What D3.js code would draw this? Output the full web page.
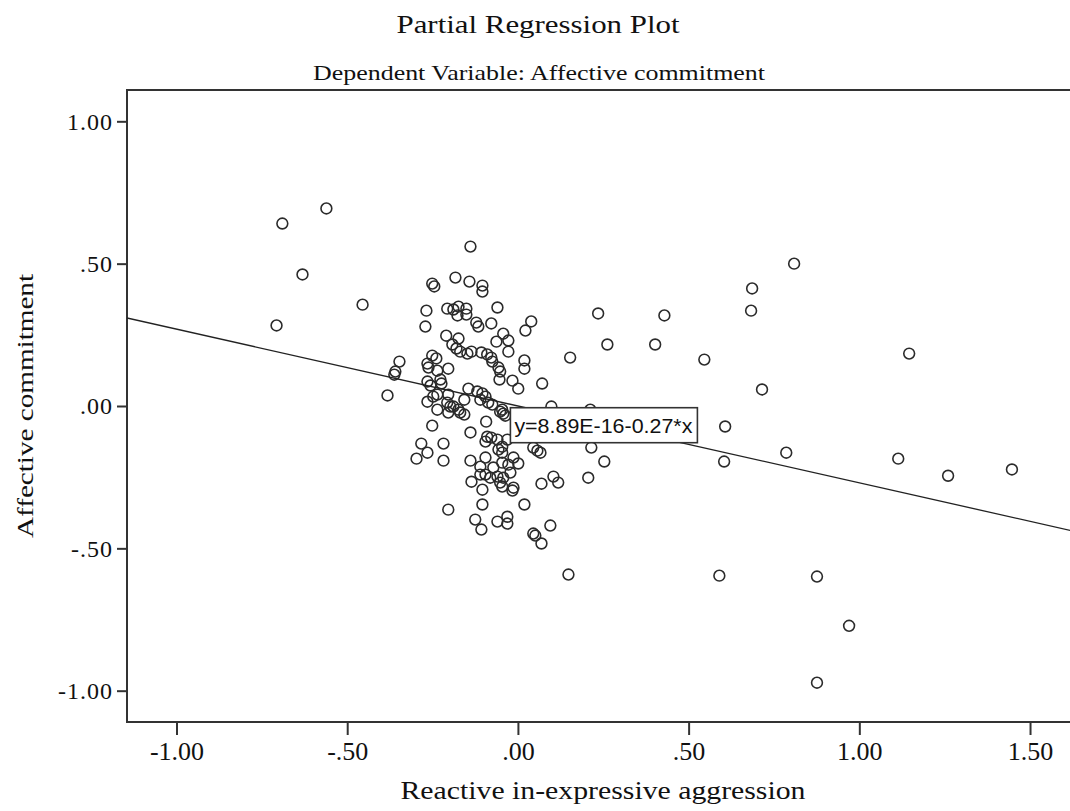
<!DOCTYPE html>
<html>
<head>
<meta charset="utf-8">
<script src="https://cdn.jsdelivr.net/npm/d3@7"></script>
<style>
  body { margin: 0; background: #fff; }
  svg { display: block; }
</style>
</head>
<body>
<div id="chart"></div>
<script>
// partial residuals
const xVals = [
  -0.690, -0.561, -0.631, -0.455, -0.707, -0.347, -0.359, -0.362, -0.382, -0.139,
  -0.251, -0.245, -0.183, -0.142, -0.104, -0.104, -0.268, -0.271, -0.207, -0.189,
  -0.174, -0.151, -0.177, -0.151, -0.060, -0.122, -0.116, -0.078, 0.039, 0.022,
  -0.210, -0.174, -0.192, -0.180, -0.169, -0.148, -0.136, -0.043, -0.028, -0.063,
  -0.028, -0.107, -0.090, -0.078, -0.075, -0.057, -0.052, -0.251, -0.239, -0.265,
  -0.236, -0.204, -0.262, 0.019, 0.019, 0.153, -0.054, -0.227, -0.265, -0.256,
  -0.224, -0.236, -0.204, -0.207, -0.198, -0.145, -0.119, -0.104, -0.110, -0.095,
  -0.087, -0.075, -0.016, 0.001, 0.071, -0.248, -0.265, -0.236, -0.189, -0.169,
  -0.204, -0.157, -0.174, -0.157, -0.052, -0.043, -0.037, -0.046, -0.093, -0.251,
  0.098, 0.212, -0.139, -0.090, -0.060, -0.046, -0.046, -0.057, -0.283, -0.265,
  -0.297, -0.218, -0.218, -0.139, -0.110, -0.095, -0.072, -0.095, -0.110, -0.081,
  -0.060, -0.043, -0.052, -0.022, -0.013, 0.001, 0.045, 0.066, 0.057, -0.078,
  -0.095, -0.031, -0.028, -0.046, -0.136, -0.104, -0.016, 0.069, 0.104, 0.118,
  -0.104, 0.019, -0.204, -0.125, -0.107, -0.060, -0.031, -0.031, 0.045, 0.051,
  0.069, 0.095, 0.148, -0.046, -0.013, 0.235, 0.429, 0.686, 0.683, 0.809,
  0.262, 0.402, 0.546, 0.715, 0.607, 0.215, 0.253, 0.604, 0.786, 0.206,
  1.146, 1.114, 1.260, 1.447, 0.876, 0.970, 0.876, 0.590
];
const yVals = [
  0.641, 0.694, 0.462, 0.356, 0.283, 0.156, 0.121, 0.110, 0.037, 0.560,
  0.430, 0.420, 0.451, 0.437, 0.423, 0.402, 0.335, 0.279, 0.342, 0.339,
  0.349, 0.342, 0.318, 0.321, 0.346, 0.293, 0.279, 0.290, 0.297, 0.265,
  0.247, 0.237, 0.216, 0.202, 0.191, 0.184, 0.191, 0.254, 0.230, 0.226,
  0.191, 0.188, 0.181, 0.170, 0.156, 0.135, 0.121, 0.177, 0.167, 0.149,
  0.124, 0.131, 0.135, 0.160, 0.131, 0.170, 0.093, 0.093, 0.086, 0.072,
  0.079, 0.040, 0.040, 0.012, -0.002, 0.061, 0.051, 0.044, 0.022, 0.033,
  0.012, 0.005, 0.089, 0.061, 0.079, 0.033, 0.015, -0.013, -0.002, -0.023,
  -0.023, 0.022, -0.013, -0.030, -0.020, -0.027, -0.034, -0.013, -0.055, -0.069,
  -0.002, -0.013, -0.093, -0.108, -0.118, -0.143, -0.164, -0.153, -0.132, -0.164,
  -0.185, -0.132, -0.192, -0.192, -0.213, -0.181, -0.216, -0.241, -0.241, -0.252,
  -0.248, -0.252, -0.269, -0.234, -0.181, -0.202, -0.146, -0.164, -0.157, -0.111,
  -0.125, -0.118, -0.206, -0.199, -0.266, -0.294, -0.297, -0.273, -0.248, -0.269,
  -0.346, -0.346, -0.364, -0.399, -0.434, -0.406, -0.389, -0.413, -0.448, -0.455,
  -0.483, -0.420, -0.592, -0.283, -0.287, 0.325, 0.318, 0.413, 0.335, 0.500,
  0.216, 0.216, 0.163, 0.058, -0.072, -0.146, -0.195, -0.195, -0.164, -0.252,
  0.184, -0.185, -0.245, -0.223, -0.599, -0.772, -0.972, -0.596
];

const xTicks = [-1, -0.5, 0, 0.5, 1, 1.5];
const yTicks = [-1, -0.5, 0, 0.5, 1];

// fit line
const intercept = 8.89e-16;
const slope = -0.27;
const fitLabel = "y=8.89E-16-0.27*x";

const title = "Partial Regression Plot";
const subtitle = "Dependent Variable: Affective commitment";
const xTitle = "Reactive in-expressive aggression";
const yTitle = "Affective commitment";

const width = 1070, height = 811;
const plotLeft = 127, plotTop = 90, plotBottom = 722, plotRight = 1071;
const serif = "'Liberation Serif', 'Times New Roman', serif";
const ink = "#333";

const points = xVals.map((d, i) => ({x: d, y: yVals[i]}));

let x = d3.scaleLinear().domain([-1.145, 1.62]).range([plotLeft, plotRight]);
let y = d3.scaleLinear().domain([-1.11, 1.11]).range([plotBottom, plotTop]);

// SPSS style: ".50", "-.50", ".00"
const fmt = d => d.toFixed(2).replace(/^(-?)0\./, "$1.");

let svg = d3.select("#chart").append("svg")
  .attr("width", width)
  .attr("height", height)
  .style("background", "#fff");

svg.append("defs").append("clipPath").attr("id", "plot-clip")
  .append("rect")
    .attr("x", plotLeft).attr("y", plotTop)
    .attr("width", plotRight - plotLeft + 10).attr("height", plotBottom - plotTop);

// the source chart is stretched sideways, so the text is stretched to fit too
function stretchedText(sel, len) {
  return sel.attr("textLength", len).attr("lengthAdjust", "spacingAndGlyphs");
}

// titles
svg.append("text")
  .attr("x", 538).attr("y", 33)
  .attr("text-anchor", "middle")
  .attr("font-family", serif).attr("font-size", 25)
  .attr("fill", "#111")
  .call(stretchedText, 283)
  .text(title);

svg.append("text")
  .attr("x", 539).attr("y", 80)
  .attr("text-anchor", "middle")
  .attr("font-family", serif).attr("font-size", 22)
  .attr("fill", "#111")
  .call(stretchedText, 452)
  .text(subtitle);

// axes
let xAxis = svg.append("g")
  .attr("transform", `translate(0,${plotBottom})`)
  .call(d3.axisBottom(x).tickValues(xTicks).tickFormat(fmt).tickSize(13).tickSizeOuter(0));

xAxis.select(".domain").remove();
xAxis.selectAll(".tick line").attr("stroke", ink).attr("stroke-width", 2);
xAxis.selectAll(".tick text")
  .attr("y", 38).attr("dy", 0)
  .attr("font-family", serif).attr("font-size", 26)
  .attr("fill", "#111");

let yAxis = svg.append("g")
  .attr("transform", `translate(${plotLeft},0)`)
  .call(d3.axisLeft(y).tickValues(yTicks).tickFormat(fmt).tickSize(10).tickPadding(4).tickSizeOuter(0));

yAxis.select(".domain").remove();
yAxis.selectAll(".tick line").attr("stroke", ink).attr("stroke-width", 2);
yAxis.selectAll(".tick text")
  .attr("font-family", serif).attr("font-size", 24)
  .attr("letter-spacing", 1)
  .attr("fill", "#111");

// frame (right side runs off the picture)
svg.append("path")
  .attr("d", `M${plotRight + 10},${plotTop}H${plotLeft}V${plotBottom}H${plotRight + 10}`)
  .attr("fill", "none")
  .attr("stroke", ink)
  .attr("stroke-width", 2);

svg.append("text")
  .attr("transform", `translate(33,${(plotTop + plotBottom) / 2}) rotate(-90)`)
  .attr("text-anchor", "middle")
  .attr("font-family", serif).attr("font-size", 24)
  .attr("fill", "#111")
  .call(stretchedText, 264)
  .text(yTitle);

svg.append("text")
  .attr("x", 603).attr("y", 799)
  .attr("text-anchor", "middle")
  .attr("font-family", serif).attr("font-size", 25)
  .attr("fill", "#111")
  .call(stretchedText, 405)
  .text(xTitle);

let plot = svg.append("g").attr("clip-path", "url(#plot-clip)");

plot.selectAll("circle")
  .data(points)
  .enter()
  .append("circle")
  .attr("cx", d => x(d.x))
  .attr("cy", d => y(d.y))
  .attr("r", 5.4)
  .attr("fill", "none")
  .attr("stroke", "#2b2b2b")
  .attr("stroke-width", 1.6);

const xd = x.domain();
plot.append("line")
  .attr("x1", x(xd[0])).attr("y1", y(intercept + slope * xd[0]))
  .attr("x2", x(xd[1])).attr("y2", y(intercept + slope * xd[1]))
  .attr("stroke", "#222")
  .attr("stroke-width", 1.3);

// equation label sits just right of the origin
let lab = svg.append("g")
  .attr("transform", `translate(${x(-0.022)},${y(-0.006)})`);

lab.append("rect")
  .attr("width", 187).attr("height", 35)
  .attr("fill", "#fff")
  .attr("stroke", ink)
  .attr("stroke-width", 1.6);

lab.append("text")
  .attr("x", 4).attr("y", 25)
  .attr("font-family", "'Liberation Sans', Arial, sans-serif")
  .attr("font-size", 20)
  .attr("fill", "#111")
  .call(stretchedText, 178)
  .text(fitLabel);
</script>
</body>
</html>
